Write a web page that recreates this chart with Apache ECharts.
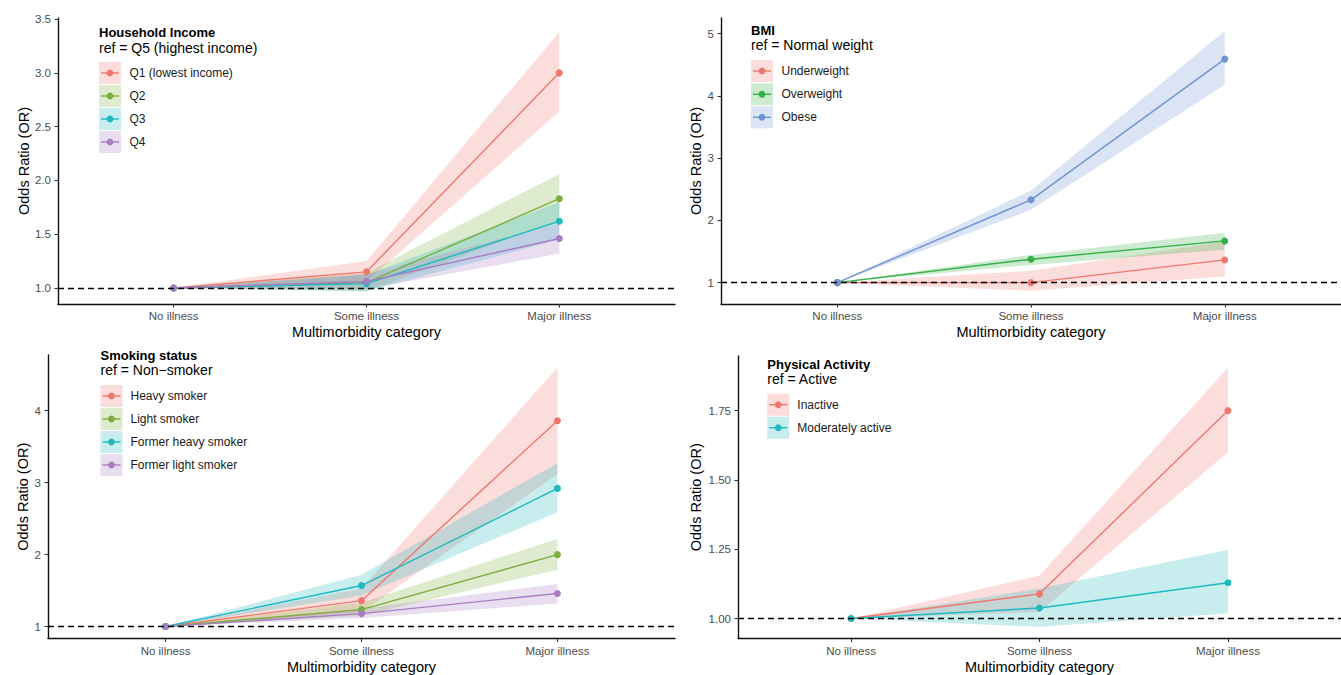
<!DOCTYPE html>
<html>
<head>
<meta charset="utf-8">
<script src="https://cdn.jsdelivr.net/npm/echarts@6/dist/echarts.min.js"></script>
<style>
  html, body { margin: 0; padding: 0; background: #fff; }
  #chart { width: 1341px; height: 675px; }
</style>
</head>
<body>
<div id="chart"></div>
<script>
// Multimorbidity categories on the x axis
const categories = ['No illness', 'Some illness', 'Major illness'];

// Household income (ref = Q5)
const incomeGroups = ['Q1 (lowest income)', 'Q2', 'Q3', 'Q4'];
const incomeOR   = [[1, 1.15, 3.00], [1, 1.05, 1.83], [1, 1.04, 1.62], [1, 1.06, 1.46]];
const incomeLow  = [[1, 1.06, 2.64], [1, 0.97, 1.63], [1, 0.97, 1.45], [1, 0.99, 1.32]];
const incomeHigh = [[1, 1.25, 3.38], [1, 1.14, 2.06], [1, 1.12, 1.80], [1, 1.13, 1.60]];
const incomeTicks = [1.0, 1.5, 2.0, 2.5, 3.0, 3.5];

// BMI (ref = Normal weight)
const bmiGroups = ['Underweight', 'Overweight', 'Obese'];
const bmiOR   = [[1, 1.00, 1.365], [1, 1.376, 1.67], [1, 2.33, 4.59]];
const bmiLow  = [[1, 0.87, 1.10], [1, 1.285, 1.53], [1, 2.17, 4.18]];
const bmiHigh = [[1, 1.19, 1.66], [1, 1.445, 1.80], [1, 2.48, 5.04]];
const bmiTicks = [1, 2, 3, 4, 5];

// Smoking status (ref = Non-smoker)
const smokingGroups = ['Heavy smoker', 'Light smoker', 'Former heavy smoker', 'Former light smoker'];
const smokingOR   = [[1, 1.36, 3.86], [1, 1.235, 2.00], [1, 1.57, 2.92], [1, 1.18, 1.46]];
const smokingLow  = [[1, 1.20, 3.12], [1, 1.15, 1.79], [1, 1.43, 2.59], [1, 1.12, 1.32]];
const smokingHigh = [[1, 1.53, 4.60], [1, 1.33, 2.22], [1, 1.72, 3.27], [1, 1.25, 1.59]];
const smokingTicks = [1, 2, 3, 4];

// Physical activity (ref = Active)
const activityGroups = ['Inactive', 'Moderately active'];
const activityOR   = [[1, 1.089, 1.75], [1, 1.038, 1.129]];
const activityLow  = [[1, 1.024, 1.60], [1, 0.97, 1.018]];
const activityHigh = [[1, 1.155, 1.905], [1, 1.108, 1.248]];
const activityTicks = [1.00, 1.25, 1.50, 1.75];

const hue4 = ['#F0776E', '#7CAE3E', '#1FB9C1', '#A97DC4'];
const hue3 = ['#F0776E', '#34AF48', '#6E94D2'];
const hue2 = ['#F0776E', '#1FB9C1'];

const FONT = "'Liberation Sans', Arial, Helvetica, sans-serif";

function rgba(hex, a) {
  const n = parseInt(hex.slice(1), 16);
  return 'rgba(' + (n >> 16 & 255) + ',' + (n >> 8 & 255) + ',' + (n & 255) + ',' + a + ')';
}

const panels = [
  { title: 'Household Income', sub: 'ref = Q5 (highest income)',
    groups: incomeGroups, or: incomeOR, low: incomeLow, high: incomeHigh, colors: hue4,
    ticks: incomeTicks, digits: 1,
    grid: { left: 58, top: 18, width: 617, height: 286 }, yMin: 0.851, yMax: 3.51, yNameGap: 26,
    legend: { x: 99, t1: 32.3, t2: 48.3, keyY: [73, 96, 119, 142], textX: 129.5 } },
  { title: 'BMI', sub: 'ref = Normal weight',
    groups: bmiGroups, or: bmiOR, low: bmiLow, high: bmiHigh, colors: hue3,
    ticks: bmiTicks, digits: 0,
    grid: { left: 721, top: 18, width: 626, height: 286 }, yMin: 0.657, yMax: 5.25, yNameGap: 18,
    legend: { x: 751, t1: 30, t2: 45.3, keyY: [71, 94.3, 117.3], textX: 781.5 } },
  { title: 'Smoking status', sub: 'ref = Non\u2212smoker',
    groups: smokingGroups, or: smokingOR, low: smokingLow, high: smokingHigh, colors: hue4,
    ticks: smokingTicks, digits: 0,
    grid: { left: 48, top: 355, width: 627, height: 285 }, yMin: 0.834, yMax: 4.774, yNameGap: 17,
    legend: { x: 100.5, t1: 355, t2: 370, keyY: [396, 419, 442, 465], textX: 130.5 } },
  { title: 'Physical Activity', sub: 'ref = Active',
    groups: activityGroups, or: activityOR, low: activityLow, high: activityHigh, colors: hue2,
    ticks: activityTicks, digits: 2,
    grid: { left: 738, top: 356, width: 610, height: 284 }, yMin: 0.928, yMax: 1.947, yNameGap: 35,
    legend: { x: 767.3, t1: 364, t2: 379.3, keyY: [404.7, 427.7], textX: 797.3 } }
];

const grids = [], xAxes = [], yAxes = [], series = [], graphics = [];

// Confidence band: lower bounds forward, upper bounds backward, mapped through the axes
function ribbonRenderer(fill) {
  return function (params, api) {
    const pts = [];
    for (let i = 0; i < categories.length; i++) pts.push(api.coord([i, api.value(i)]));
    for (let i = categories.length - 1; i >= 0; i--) pts.push(api.coord([i, api.value(categories.length + i)]));
    return { type: 'polygon', shape: { points: pts }, style: { fill: fill }, silent: true };
  };
}

panels.forEach(function (p, idx) {
  grids.push(Object.assign({ containLabel: false }, p.grid));

  xAxes.push({
    type: 'value', gridIndex: idx, min: -0.6, max: 2.6,
    name: 'Multimorbidity category', nameLocation: 'middle', nameGap: 20.5,
    nameTextStyle: { fontFamily: FONT, fontSize: 14.5, color: '#000' },
    axisLine: { show: true, onZero: false, lineStyle: { color: '#111', width: 1.4 } },
    axisTick: { show: true, length: 3.5, customValues: [0, 1, 2], lineStyle: { color: '#333', width: 1.1 } },
    axisLabel: { customValues: [0, 1, 2], margin: 6, fontFamily: FONT, fontSize: 11.5, color: '#4D4D4D',
      formatter: function (v) { return categories[Math.round(v)]; } },
    splitLine: { show: false }
  });

  yAxes.push({
    type: 'value', gridIndex: idx, min: p.yMin, max: p.yMax,
    name: 'Odds Ratio (OR)', nameLocation: 'middle', nameGap: p.yNameGap,
    nameTextStyle: { fontFamily: FONT, fontSize: 14.5, color: '#000' },
    axisLine: { show: true, onZero: false, lineStyle: { color: '#111', width: 1.4 } },
    axisTick: { show: true, length: 3.5, customValues: p.ticks, lineStyle: { color: '#333', width: 1.1 } },
    axisLabel: { customValues: p.ticks, margin: 7, fontFamily: FONT, fontSize: 11.5, color: '#4D4D4D',
      formatter: function (v) { return Number(v).toFixed(p.digits); } },
    splitLine: { show: false }
  });

  // ribbons first, so every line sits above every band
  p.groups.forEach(function (g, k) {
    series.push({
      type: 'custom', name: g + ' CI', xAxisIndex: idx, yAxisIndex: idx, z: 1,
      silent: true, animation: false,
      renderItem: ribbonRenderer(rgba(p.colors[k], 0.25)),
      encode: { x: 0, y: [0, 1, 2, 3, 4, 5] },
      data: [p.low[k].concat(p.high[k])]
    });
  });

  p.groups.forEach(function (g, k) {
    const s = {
      type: 'line', name: g, xAxisIndex: idx, yAxisIndex: idx, z: 3,
      animation: false, silent: true,
      symbol: 'circle', symbolSize: 7, showSymbol: true,
      lineStyle: { color: p.colors[k], width: 1.4 },
      itemStyle: { color: p.colors[k] },
      data: p.or[k].map(function (v, i) { return [i, v]; })
    };
    if (k === 0) {
      // reference line at OR = 1
      s.markLine = {
        silent: true, symbol: 'none', animation: false,
        label: { show: false },
        lineStyle: { color: '#000', type: [6, 4], width: 1.3 },
        emphasis: { disabled: true },
        data: [{ yAxis: 1 }]
      };
    }
    series.push(s);
  });

  // legend block: two-line title and keys with a band square, line and point
  const L = p.legend;
  graphics.push({ type: 'text', x: L.x, y: L.t1, silent: true,
    style: { text: p.title, fontFamily: FONT, fontSize: 13, fontWeight: 'bold', fill: '#000', verticalAlign: 'middle' } });
  graphics.push({ type: 'text', x: L.x, y: L.t2, silent: true,
    style: { text: p.sub, fontFamily: FONT, fontSize: 14, fill: '#000', verticalAlign: 'middle' } });
  p.groups.forEach(function (g, k) {
    const cy = L.keyY[k];
    graphics.push({ type: 'rect', silent: true, shape: { x: L.x, y: cy - 11, width: 22, height: 22 },
      style: { fill: rgba(p.colors[k], 0.25) } });
    graphics.push({ type: 'line', silent: true, shape: { x1: L.x + 2, y1: cy, x2: L.x + 20, y2: cy },
      style: { stroke: p.colors[k], lineWidth: 1.4 } });
    graphics.push({ type: 'circle', silent: true, shape: { cx: L.x + 11, cy: cy, r: 3.4 },
      style: { fill: p.colors[k] } });
    graphics.push({ type: 'text', x: L.textX, y: cy, silent: true,
      style: { text: g, fontFamily: FONT, fontSize: 12, fill: '#1A1A1A', verticalAlign: 'middle' } });
  });
});

const chart = echarts.init(document.getElementById('chart'), null, { renderer: 'svg' });
chart.setOption({
  backgroundColor: '#fff',
  animation: false,
  grid: grids,
  xAxis: xAxes,
  yAxis: yAxes,
  series: series,
  graphic: { elements: graphics }
});
</script>
</body>
</html>
